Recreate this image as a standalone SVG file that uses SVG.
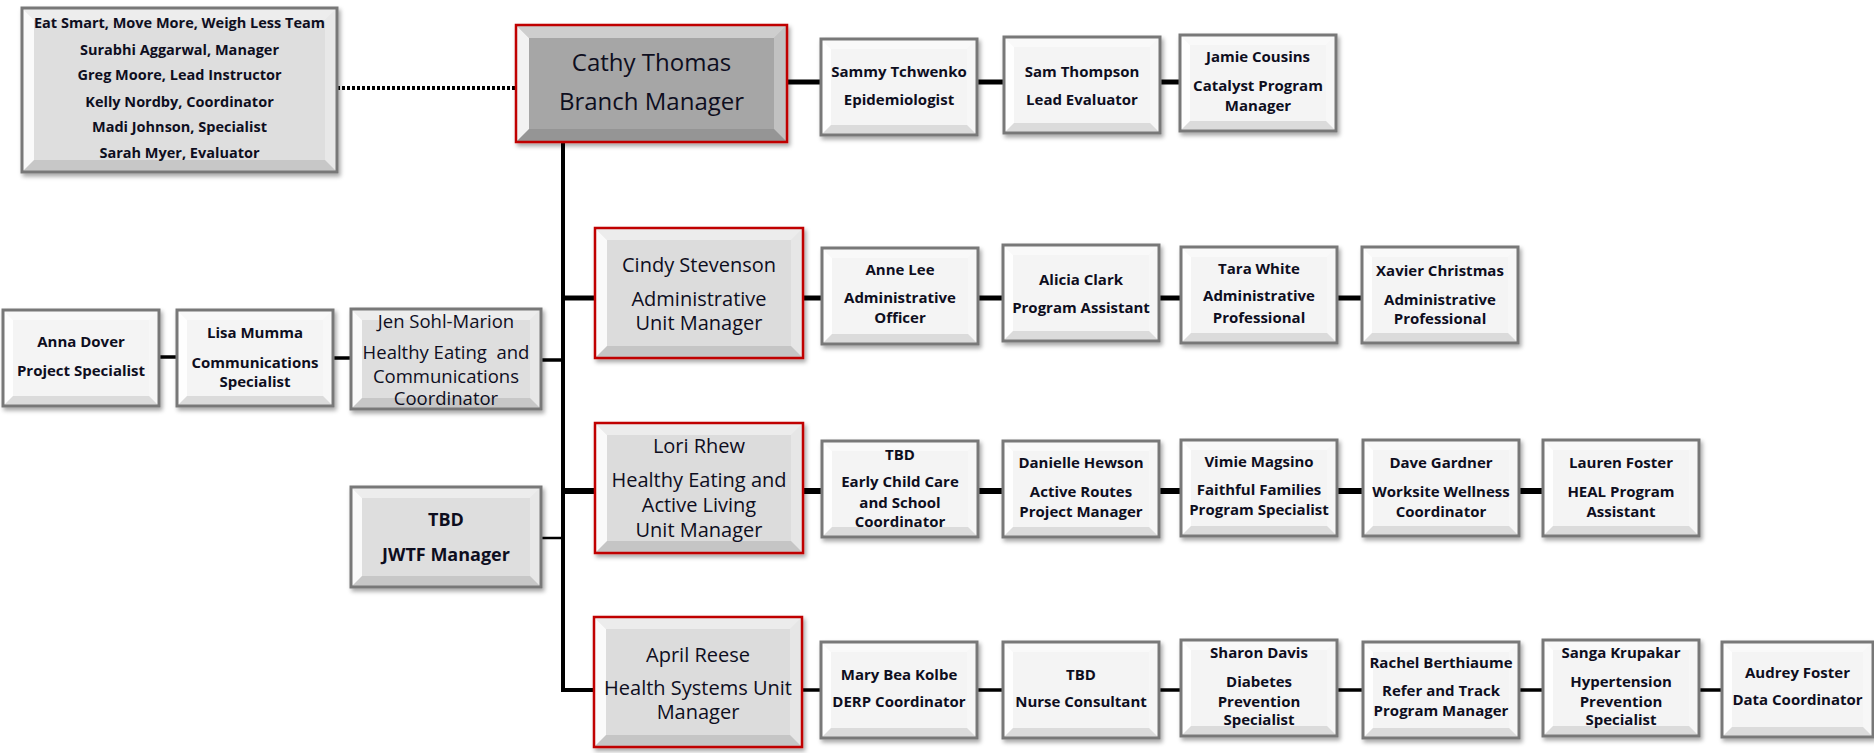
<svg xmlns="http://www.w3.org/2000/svg" xmlns:xlink="http://www.w3.org/1999/xlink" width="1874" height="753" viewBox="0 0 1874 753">
<style>
.t{font-family:"Open Sans","DejaVu Sans",sans-serif;fill:#0e0e1e;text-anchor:middle}
.s{font-size:15px;font-weight:700}
.u{font-size:20px}
.c{font-size:24px}
.tm{font-size:14.5px;font-weight:700}
.j{font-size:18.5px}
.jb{font-size:18px;font-weight:700}
.ln{stroke:#000;fill:none}
.bt{fill:#fff;fill-opacity:.45}
.bl{fill:#fff;fill-opacity:.85}
.br{fill:#fff;fill-opacity:.3}
.bb{fill:#000;fill-opacity:.1}
.g{fill:none;stroke:#787878;stroke-width:3}
.r{fill:none;stroke:#c00000;stroke-width:2.5}
</style>
<defs>
<filter id="sh" x="-10%" y="-10%" width="125%" height="130%">
<feDropShadow dx="2" dy="3" stdDeviation="2" flood-color="#000" flood-opacity="0.35"/>
</filter>
<g id="b-staff">
<rect width="156" height="96" fill="#f4f4f4"/>
<polygon class="bt" points="0,0 156,0 146,10 10,10"/>
<polygon class="bl" points="0,0 10,10 10,86 0,96"/>
<polygon class="br" points="156,0 156,96 146,86 146,10"/>
<polygon class="bb" points="0,96 156,96 146,86 10,86"/>
<rect class="g" width="156" height="96"/>
</g>
<g id="b-aud">
<rect width="151" height="95" fill="#f4f4f4"/>
<polygon class="bt" points="0,0 151,0 141,10 10,10"/>
<polygon class="bl" points="0,0 10,10 10,85 0,95"/>
<polygon class="br" points="151,0 151,95 141,85 141,10"/>
<polygon class="bb" points="0,95 151,95 141,85 10,85"/>
<rect class="g" width="151" height="95"/>
</g>
<g id="b-unit">
<rect width="208" height="130" fill="#dcdcdc"/>
<polygon class="bt" points="0,0 208,0 196,12 12,12"/>
<polygon class="bl" points="0,0 12,12 12,118 0,130"/>
<polygon class="br" points="208,0 208,130 196,118 196,12"/>
<polygon class="bb" points="0,130 208,130 196,118 12,118"/>
<rect class="r" width="208" height="130"/>
</g>
<g id="b-cathy">
<rect width="271" height="117" fill="#a6a6a6"/>
<polygon class="bt" points="0,0 271,0 258,13 13,13"/>
<polygon class="bl" points="0,0 13,13 13,104 0,117"/>
<polygon class="br" points="271,0 271,117 258,104 258,13"/>
<polygon class="bb" points="0,117 271,117 258,104 13,104"/>
<rect class="r" width="271" height="117"/>
</g>
<g id="b-team">
<rect width="315" height="164" fill="#dedede"/>
<polygon class="bt" points="0,0 315,0 303,12 12,12"/>
<polygon class="bl" points="0,0 12,12 12,152 0,164"/>
<polygon class="br" points="315,0 315,164 303,152 303,12"/>
<polygon class="bb" points="0,164 315,164 303,152 12,152"/>
<rect class="g" width="315" height="164"/>
</g>
<g id="b-side">
<rect width="190" height="100" fill="#dedede"/>
<polygon class="bt" points="0,0 190,0 179,11 11,11"/>
<polygon class="bl" points="0,0 11,11 11,89 0,100"/>
<polygon class="br" points="190,0 190,100 179,89 179,11"/>
<polygon class="bb" points="0,100 190,100 179,89 11,89"/>
<rect class="g" width="190" height="100"/>
</g>
</defs>
<rect width="1874" height="753" fill="#fff"/>

<g id="connectors">
<line class="ln" x1="337" y1="88" x2="516" y2="88" stroke-width="4" stroke-dasharray="3 2"/>
<line class="ln" x1="563" y1="142" x2="563" y2="692" stroke-width="4"/>
<line class="ln" x1="561" y1="690" x2="593" y2="690" stroke-width="4"/>
<line class="ln" x1="787" y1="82" x2="821" y2="82" stroke-width="5"/>
<line class="ln" x1="977" y1="82" x2="1004" y2="82" stroke-width="5"/>
<line class="ln" x1="1160" y1="82" x2="1180" y2="82" stroke-width="5"/>
<line class="ln" x1="563" y1="298" x2="595" y2="298" stroke-width="5"/>
<line class="ln" x1="803" y1="298" x2="822" y2="298" stroke-width="5"/>
<line class="ln" x1="978" y1="298" x2="1003" y2="298" stroke-width="5"/>
<line class="ln" x1="1159" y1="298" x2="1181" y2="298" stroke-width="5"/>
<line class="ln" x1="1337" y1="298" x2="1362" y2="298" stroke-width="5"/>
<line class="ln" x1="563" y1="491" x2="595" y2="491" stroke-width="6"/>
<line class="ln" x1="803" y1="491" x2="822" y2="491" stroke-width="6"/>
<line class="ln" x1="978" y1="491" x2="1003" y2="491" stroke-width="6"/>
<line class="ln" x1="1159" y1="491" x2="1181" y2="491" stroke-width="6"/>
<line class="ln" x1="1337" y1="491" x2="1363" y2="491" stroke-width="6"/>
<line class="ln" x1="1519" y1="491" x2="1543" y2="491" stroke-width="6"/>
<line class="ln" x1="803" y1="690" x2="821" y2="690" stroke-width="3.5"/>
<line class="ln" x1="977" y1="690" x2="1003" y2="690" stroke-width="3.5"/>
<line class="ln" x1="1159" y1="690" x2="1181" y2="690" stroke-width="3.5"/>
<line class="ln" x1="1337" y1="690" x2="1363" y2="690" stroke-width="3.5"/>
<line class="ln" x1="1519" y1="690" x2="1543" y2="690" stroke-width="3.5"/>
<line class="ln" x1="1699" y1="690" x2="1722" y2="690" stroke-width="3.5"/>
<line class="ln" x1="541" y1="360" x2="563" y2="360" stroke-width="3.5"/>
<line class="ln" x1="333" y1="358" x2="351" y2="358" stroke-width="3.5"/>
<line class="ln" x1="159" y1="357" x2="177" y2="357" stroke-width="3.5"/>
<line class="ln" x1="541" y1="538" x2="563" y2="538" stroke-width="2.5"/>
</g>

<g id="team">
<use href="#b-team" x="22" y="8" filter="url(#sh)"/>
<text class="t tm" x="179.5" y="28">Eat Smart, Move More, Weigh Less Team</text>
<text class="t tm" x="179.5" y="55">Surabhi Aggarwal, Manager</text>
<text class="t tm" x="179.5" y="80">Greg Moore, Lead Instructor</text>
<text class="t tm" x="179.5" y="107">Kelly Nordby, Coordinator</text>
<text class="t tm" x="179.5" y="132">Madi Johnson, Specialist</text>
<text class="t tm" x="179.5" y="158">Sarah Myer, Evaluator</text>
</g>

<g id="cathy">
<use href="#b-cathy" x="516" y="25" filter="url(#sh)"/>
<text class="t c" x="651.5" y="71">Cathy Thomas</text>
<text class="t c" x="651.5" y="110">Branch Manager</text>
</g>

<g id="sammy">
<use href="#b-staff" x="821" y="39" filter="url(#sh)"/>
<text class="t s" x="899" y="77">Sammy Tchwenko</text>
<text class="t s" x="899" y="105">Epidemiologist</text>
</g>
<g id="sam">
<use href="#b-staff" x="1004" y="37" filter="url(#sh)"/>
<text class="t s" x="1082" y="77">Sam Thompson</text>
<text class="t s" x="1082" y="105">Lead Evaluator</text>
</g>
<g id="jamie">
<use href="#b-staff" x="1180" y="35" filter="url(#sh)"/>
<text class="t s" x="1258" y="62">Jamie Cousins</text>
<text class="t s" x="1258" y="91">Catalyst Program</text>
<text class="t s" x="1258" y="111">Manager</text>
</g>

<g id="cindy">
<use href="#b-unit" x="595" y="228" filter="url(#sh)"/>
<text class="t u" x="699" y="272">Cindy Stevenson</text>
<text class="t u" x="699" y="306">Administrative</text>
<text class="t u" x="699" y="330">Unit Manager</text>
</g>
<g id="anne">
<use href="#b-staff" x="822" y="248" filter="url(#sh)"/>
<text class="t s" x="900" y="275">Anne Lee</text>
<text class="t s" x="900" y="303">Administrative</text>
<text class="t s" x="900" y="323">Officer</text>
</g>
<g id="alicia">
<use href="#b-staff" x="1003" y="245" filter="url(#sh)"/>
<text class="t s" x="1081" y="285">Alicia Clark</text>
<text class="t s" x="1081" y="313">Program Assistant</text>
</g>
<g id="tara">
<use href="#b-staff" x="1181" y="247" filter="url(#sh)"/>
<text class="t s" x="1259" y="274">Tara White</text>
<text class="t s" x="1259" y="301">Administrative</text>
<text class="t s" x="1259" y="323">Professional</text>
</g>
<g id="xavier">
<use href="#b-staff" x="1362" y="247" filter="url(#sh)"/>
<text class="t s" x="1440" y="276">Xavier Christmas</text>
<text class="t s" x="1440" y="305">Administrative</text>
<text class="t s" x="1440" y="324">Professional</text>
</g>

<g id="lori">
<use href="#b-unit" x="595" y="423" filter="url(#sh)"/>
<text class="t u" x="699" y="453">Lori Rhew</text>
<text class="t u" x="699" y="487">Healthy Eating and</text>
<text class="t u" x="699" y="512">Active Living</text>
<text class="t u" x="699" y="537">Unit Manager</text>
</g>
<g id="tbd-ecc">
<use href="#b-staff" x="822" y="441" filter="url(#sh)"/>
<text class="t s" x="900" y="460">TBD</text>
<text class="t s" x="900" y="487">Early Child Care</text>
<text class="t s" x="900" y="508">and School</text>
<text class="t s" x="900" y="527">Coordinator</text>
</g>
<g id="danielle">
<use href="#b-staff" x="1003" y="441" filter="url(#sh)"/>
<text class="t s" x="1081" y="468">Danielle Hewson</text>
<text class="t s" x="1081" y="497">Active Routes</text>
<text class="t s" x="1081" y="517">Project Manager</text>
</g>
<g id="vimie">
<use href="#b-staff" x="1181" y="440" filter="url(#sh)"/>
<text class="t s" x="1259" y="467">Vimie Magsino</text>
<text class="t s" x="1259" y="495">Faithful Families</text>
<text class="t s" x="1259" y="515">Program Specialist</text>
</g>
<g id="dave">
<use href="#b-staff" x="1363" y="440" filter="url(#sh)"/>
<text class="t s" x="1441" y="468">Dave Gardner</text>
<text class="t s" x="1441" y="497">Worksite Wellness</text>
<text class="t s" x="1441" y="517">Coordinator</text>
</g>
<g id="lauren">
<use href="#b-staff" x="1543" y="440" filter="url(#sh)"/>
<text class="t s" x="1621" y="468">Lauren Foster</text>
<text class="t s" x="1621" y="497">HEAL Program</text>
<text class="t s" x="1621" y="517">Assistant</text>
</g>

<g id="april">
<use href="#b-unit" x="594" y="617" filter="url(#sh)"/>
<text class="t u" x="698" y="662">April Reese</text>
<text class="t u" x="698" y="695">Health Systems Unit</text>
<text class="t u" x="698" y="719">Manager</text>
</g>
<g id="marybea">
<use href="#b-staff" x="821" y="642" filter="url(#sh)"/>
<text class="t s" x="899" y="680">Mary Bea Kolbe</text>
<text class="t s" x="899" y="707">DERP Coordinator</text>
</g>
<g id="tbd-nurse">
<use href="#b-staff" x="1003" y="642" filter="url(#sh)"/>
<text class="t s" x="1081" y="680">TBD</text>
<text class="t s" x="1081" y="707">Nurse Consultant</text>
</g>
<g id="sharon">
<use href="#b-staff" x="1181" y="640" filter="url(#sh)"/>
<text class="t s" x="1259" y="658">Sharon Davis</text>
<text class="t s" x="1259" y="687">Diabetes</text>
<text class="t s" x="1259" y="707">Prevention</text>
<text class="t s" x="1259" y="725">Specialist</text>
</g>
<g id="rachel">
<use href="#b-staff" x="1363" y="642" filter="url(#sh)"/>
<text class="t s" x="1441" y="668">Rachel Berthiaume</text>
<text class="t s" x="1441" y="696">Refer and Track</text>
<text class="t s" x="1441" y="716">Program Manager</text>
</g>
<g id="sanga">
<use href="#b-staff" x="1543" y="640" filter="url(#sh)"/>
<text class="t s" x="1621" y="658">Sanga Krupakar</text>
<text class="t s" x="1621" y="687">Hypertension</text>
<text class="t s" x="1621" y="707">Prevention</text>
<text class="t s" x="1621" y="725">Specialist</text>
</g>
<g id="audrey">
<use href="#b-aud" x="1722" y="642" filter="url(#sh)"/>
<text class="t s" x="1797.5" y="678">Audrey Foster</text>
<text class="t s" x="1797.5" y="705">Data Coordinator</text>
</g>

<g id="anna">
<use href="#b-staff" x="3" y="310" filter="url(#sh)"/>
<text class="t s" x="81" y="347">Anna Dover</text>
<text class="t s" x="81" y="376">Project Specialist</text>
</g>
<g id="lisa">
<use href="#b-staff" x="177" y="310" filter="url(#sh)"/>
<text class="t s" x="255" y="338">Lisa Mumma</text>
<text class="t s" x="255" y="368">Communications</text>
<text class="t s" x="255" y="387">Specialist</text>
</g>
<g id="jen">
<use href="#b-side" x="351" y="309" filter="url(#sh)"/>
<text class="t j" x="446" y="328">Jen Sohl-Marion</text>
<text class="t j" x="446" y="359" xml:space="preserve">Healthy Eating  and</text>
<text class="t j" x="446" y="383">Communications</text>
<text class="t j" x="446" y="405">Coordinator</text>
</g>
<g id="jwtf">
<use href="#b-side" x="351" y="487" filter="url(#sh)"/>
<text class="t jb" x="446" y="526">TBD</text>
<text class="t jb" x="446" y="561">JWTF Manager</text>
</g>
</svg>
